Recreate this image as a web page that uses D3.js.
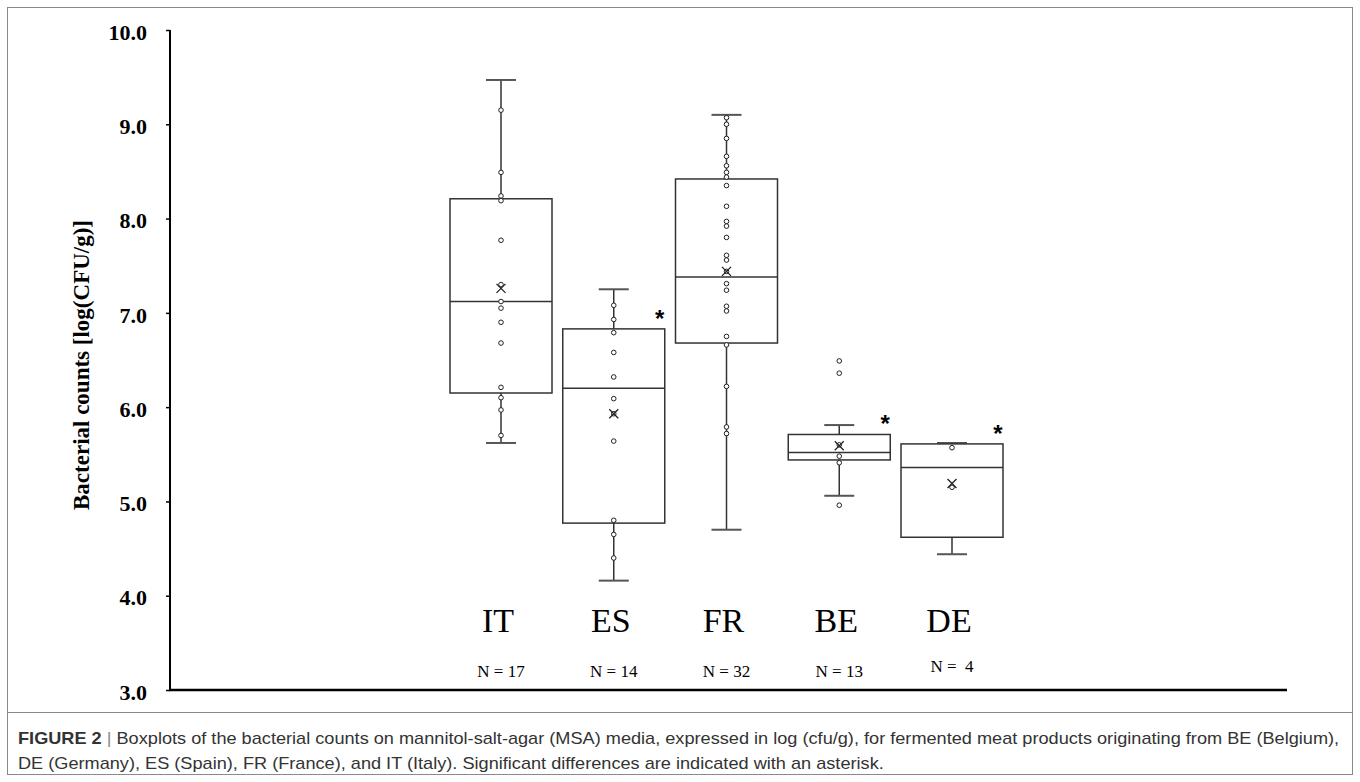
<!DOCTYPE html>
<html>
<head>
<meta charset="utf-8">
<script src="https://cdn.jsdelivr.net/npm/d3@7"></script>
<style>
  html, body { margin: 0; padding: 0; background: #fff; }
  svg { display: block; }
</style>
</head>
<body>
<svg id="chart" width="1360" height="782"></svg>
<script>
// ---- data ----
const categories = ["IT", "ES", "FR", "BE", "DE"];
const nLabels = ["N = 17", "N = 14", "N = 32", "N = 13", "N =  4"];
const whiskerLow = [5.62, 4.16, 4.70, 5.06, 4.44];
const q1 = [6.15, 4.77, 6.68, 5.44, 4.62];
const medians = [7.12, 6.20, 7.38, 5.52, 5.36];
const q3 = [8.21, 6.83, 8.42, 5.71, 5.61];
const whiskerHigh = [9.47, 7.25, 9.10, 5.81, 5.62];
const means = [7.26, 5.93, 7.44, 5.59, 5.19];
const significant = [false, true, false, true, true];
const pointsIT = [9.15, 8.49, 8.24, 8.19, 7.77, 7.30, 7.12, 7.05, 6.90, 6.68, 6.21, 6.10, 5.97, 5.70];
const pointsES = [7.08, 6.93, 6.79, 6.58, 6.32, 6.09, 5.93, 5.64, 4.80, 4.65, 4.40];
const pointsFR = [9.07, 9.00, 8.85, 8.66, 8.56, 8.49, 8.44, 8.35, 8.13, 7.97, 7.92, 7.80, 7.61, 7.56, 7.44, 7.31, 7.24, 7.07, 7.02, 6.75, 6.66, 6.22, 5.79, 5.72];
const pointsBE = [6.49, 6.36, 5.60, 5.48, 5.41, 4.96];
const pointsDE = [5.57, 5.15];
const points = [pointsIT, pointsES, pointsFR, pointsBE, pointsDE];
const yTicks = [3, 4, 5, 6, 7, 8, 9, 10];
const yTitle = "Bacterial counts [log(CFU/g)]";
const captionBold = "FIGURE 2";
const captionLine1 = "Boxplots of the bacterial counts on mannitol-salt-agar (MSA) media, expressed in log (cfu/g), for fermented meat products originating from BE (Belgium),";
const captionLine2 = "DE (Germany), ES (Spain), FR (France), and IT (Italy). Significant differences are indicated with an asterisk.";

// ---- drawing ----
const svg = d3.select("#chart");
const serif = "'Liberation Serif', 'Times New Roman', serif";

// figure frame
svg.append("rect").attr("x", 7.5).attr("y", 7.5).attr("width", 1345).attr("height", 767)
  .attr("fill", "none").attr("stroke", "#8a8a8a").attr("stroke-width", 1);
svg.append("line").attr("x1", 7.5).attr("x2", 1352.5).attr("y1", 712.5).attr("y2", 712.5)
  .attr("stroke", "#8a8a8a").attr("stroke-width", 1);

const y = d3.scaleLinear().domain([3, 10]).range([690, 30]);
const x = d3.scalePoint().domain(categories).range([501, 952]);
const boxW = 102, capW = 30;
const axisX = 170, axisRight = 1287;

// y axis
const yAxis = svg.append("g").attr("transform", `translate(${axisX},0)`)
  .call(d3.axisLeft(y).tickValues(yTicks).tickFormat(d3.format(".1f")).tickSize(4).tickPadding(19));
yAxis.select(".domain").attr("stroke", "#000").attr("stroke-width", 2).attr("d", `M0,${y(10)}V${y(3)}`);
yAxis.selectAll(".tick line").attr("stroke", "#000").attr("stroke-width", 1.5);
yAxis.selectAll(".tick text").attr("font-family", serif).attr("font-weight", "bold")
  .attr("font-size", 22).attr("fill", "#000").attr("dy", "0.42em");

// x axis line
svg.append("line").attr("x1", axisX - 1).attr("x2", axisRight).attr("y1", y(3)).attr("y2", y(3))
  .attr("stroke", "#000").attr("stroke-width", 2.5);

// y title
svg.append("text").attr("transform", `translate(89,${(y(10) + y(3)) / 2 + 5}) rotate(-90)`)
  .attr("text-anchor", "middle").attr("font-family", serif).attr("font-weight", "bold")
  .attr("font-size", 23).attr("fill", "#000").text(yTitle);

// boxes
const g = svg.append("g");
categories.forEach((c, i) => {
  const cx = x(c);
  const grp = g.append("g");
  const stroke = "#333";
  // whiskers
  grp.append("line").attr("x1", cx).attr("x2", cx).attr("y1", y(whiskerHigh[i])).attr("y2", y(q3[i]))
    .attr("stroke", stroke).attr("stroke-width", 1.5);
  grp.append("line").attr("x1", cx).attr("x2", cx).attr("y1", y(q1[i])).attr("y2", y(whiskerLow[i]))
    .attr("stroke", stroke).attr("stroke-width", 1.5);
  [whiskerHigh[i], whiskerLow[i]].forEach(v => {
    grp.append("line").attr("x1", cx - capW / 2).attr("x2", cx + capW / 2).attr("y1", y(v)).attr("y2", y(v))
      .attr("stroke", "#555").attr("stroke-width", 2);
  });
  // box
  grp.append("rect").attr("x", cx - boxW / 2).attr("y", y(q3[i])).attr("width", boxW)
    .attr("height", y(q1[i]) - y(q3[i])).attr("fill", "#fff").attr("stroke", stroke).attr("stroke-width", 1.5);
  grp.append("line").attr("x1", cx - boxW / 2).attr("x2", cx + boxW / 2).attr("y1", y(medians[i])).attr("y2", y(medians[i]))
    .attr("stroke", stroke).attr("stroke-width", 1.5);
  // points
  grp.selectAll("circle").data(points[i]).join("circle")
    .attr("cx", cx).attr("cy", d => y(d)).attr("r", 2.3)
    .attr("fill", "#fff").attr("stroke", "#222").attr("stroke-width", 1);
  // mean X
  const m = y(means[i]), s = 4.5;
  grp.append("path").attr("d", `M${cx - s},${m - s}L${cx + s},${m + s}M${cx - s},${m + s}L${cx + s},${m - s}`)
    .attr("stroke", "#222").attr("stroke-width", 1.3).attr("fill", "none");
  // category labels
  grp.append("text").attr("x", cx - 3).attr("y", 632).attr("text-anchor", "middle")
    .attr("font-family", serif).attr("font-size", 34).attr("fill", "#000").text(c);
  grp.append("text").attr("x", cx).attr("y", c === "DE" ? 672 : 677).attr("text-anchor", "middle")
    .attr("font-family", serif).attr("font-size", 17).attr("fill", "#000")
    .attr("xml:space", "preserve").style("white-space", "pre").text(nLabels[i]);
});

// significance asterisks (drawn above all boxes)
categories.forEach((c, i) => {
  if (!significant[i]) return;
  svg.append("text").attr("x", x(c) + boxW / 2 - 5).attr("y", y(q3[i]) - 2)
    .attr("text-anchor", "middle").attr("font-family", "'Liberation Sans', Arial, sans-serif")
    .attr("font-weight", "bold").attr("font-size", 24).attr("fill", "#000").text("*");
});

// caption
const capFont = "'Liberation Sans', Arial, sans-serif";
const capG = svg.append("g");
const cap1 = capG.append("text").attr("x", 0).attr("y", 744).attr("font-family", capFont)
  .attr("font-size", 17).attr("fill", "#333");
cap1.append("tspan").attr("font-weight", "bold").text(captionBold);
cap1.append("tspan").attr("fill", "#888").text(" | ");
cap1.append("tspan").text(captionLine1);
capG.append("text").attr("x", 0).attr("y", 769).attr("font-family", capFont)
  .attr("font-size", 17).attr("fill", "#333").text(captionLine2);
const w1 = cap1.node().getComputedTextLength();
const sx = 1322 / w1;
capG.attr("transform", `translate(18,0) scale(${sx},1)`);
</script>
</body>
</html>
